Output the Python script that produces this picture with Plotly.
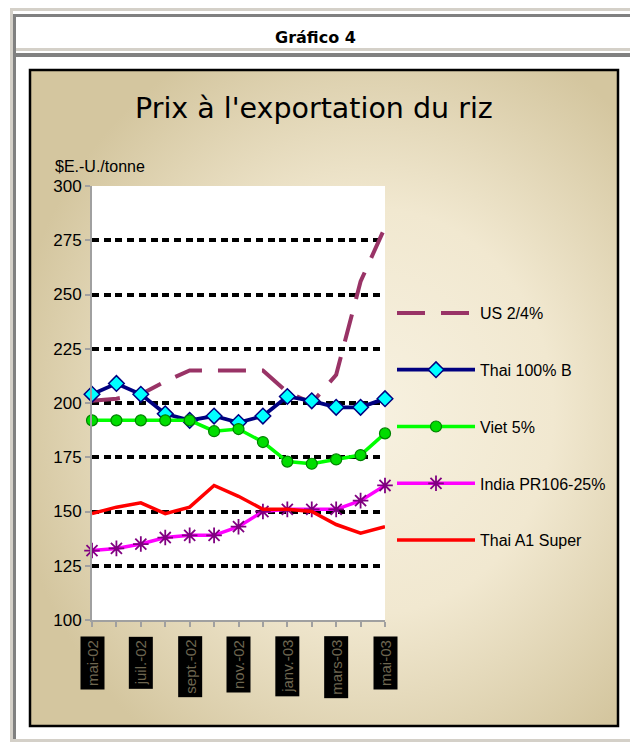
import base64
import plotly.graph_objects as go

# ---------------- data ----------------
months = ["mai-02", "juin-02", "juil.-02", "août-02", "sept.-02", "oct.-02", "nov.-02",
          "déc.-02", "janv.-03", "févr.-03", "mars-03", "avr.-03", "mai-03"]
tick_labels = ["mai-02", "juil.-02", "sept.-02", "nov.-02", "janv.-03", "mars-03", "mai-03"]
y_ticks = [100, 125, 150, 175, 200, 225, 250, 275, 300]

us_24 = [201, 202, 204, 210, 215, 215, 215, 215, 205, 200, 213, 256, 281]
thai_100b = [204, 209, 204, 195, 192, 194, 191, 194, 203, 201, 198, 198, 202]
viet_5 = [192, 192, 192, 192, 192, 187, 188, 182, 173, 172, 174, 176, 186]
india_pr106 = [132, 133, 135, 138, 139, 139, 143, 150, 151, 151, 151, 155, 162]
thai_a1 = [149, 152, 154, 149, 152, 162, 157, 151, 151, 150, 144, 140, 143]

W, H = 630, 742
L, R, T, B = 92, 245, 186, 122
PW, PH = W - L - R, H - T - B


def px(xp):
    return (xp - L) / PW


def py(yp):
    return (H - B - yp) / PH


fig = go.Figure()

fig.add_trace(go.Scatter(
    x=months, y=us_24, name="US 2/4%", mode="lines",
    line=dict(color="#993366", width=4, dash="28px,16px"), cliponaxis=False))
fig.add_trace(go.Scatter(
    x=months, y=thai_100b, name="Thai 100% B", mode="lines+markers",
    line=dict(color="#000080", width=3.8),
    marker=dict(symbol="diamond", size=12, color="#00ffff", line=dict(color="#000080", width=1.5)),
    cliponaxis=False))
fig.add_trace(go.Scatter(
    x=months, y=viet_5, name="Viet 5%", mode="lines+markers",
    line=dict(color="#00ff00", width=3.5),
    marker=dict(symbol="circle", size=11, color="#00dd00", line=dict(color="#008000", width=1.2)),
    cliponaxis=False))
fig.add_trace(go.Scatter(
    x=months, y=india_pr106, name="India PR106-25%", mode="lines+markers",
    line=dict(color="#ff00ff", width=3.5),
    marker=dict(symbol="asterisk-open", size=13, color="#800080", line=dict(color="#800080", width=1.8)),
    cliponaxis=False))
fig.add_trace(go.Scatter(
    x=months, y=thai_a1, name="Thai A1 Super", mode="lines",
    line=dict(color="#ff0000", width=3.5), cliponaxis=False))

for i, tr in enumerate(fig.data):
    tr.legendgroup = "g%d" % i

# background gradient for chart panel
svg = ("<svg xmlns='http://www.w3.org/2000/svg' width='588' height='656' viewBox='0 0 588 656' "
       "preserveAspectRatio='none'><defs><radialGradient id='g' cx='0.58' cy='0.52' r='0.62'>"
       "<stop offset='0' stop-color='#f7f1e0'/><stop offset='0.5' stop-color='#f1e8d0'/>"
       "<stop offset='1' stop-color='#d4c69f'/></radialGradient></defs>"
       "<rect width='588' height='656' fill='url(#g)'/></svg>")
src = "data:image/svg+xml;base64," + base64.b64encode(svg.encode()).decode()

images = [dict(source=src, xref="paper", yref="paper", x=px(30), y=py(70),
               sizex=(618 - 30) / PW, sizey=(726 - 70) / PH, sizing="stretch",
               xanchor="left", yanchor="top", layer="below")]


def rect(x0, y0, x1, y1, fill=None, line=None, lw=0):
    return dict(type="rect", xref="paper", yref="paper", x0=px(x0), x1=px(x1),
                y0=py(y1), y1=py(y0), fillcolor=fill or "rgba(0,0,0,0)",
                line=dict(color=line or "rgba(0,0,0,0)", width=lw), layer="below")


LG, DG = "#d4d0c8", "#808080"
shapes = [
    rect(10, 8, 630, 11, LG), rect(10, 8, 13, 742, LG),
    rect(13, 14, 630, 17, DG), rect(13, 14, 16, 742, DG),
    rect(16, 48, 630, 51, LG), rect(16, 53, 630, 57, DG),
    rect(13, 739, 630, 742, LG),
    rect(L, T, L + PW, H - B, "#ffffff"),
    rect(30, 70, 618, 726, None, "#000000", 2.5),
]

annotations = [
    dict(text="<b>Gráfico 4</b>", xref="paper", yref="paper", x=px(315), y=py(37),
         xanchor="center", yanchor="middle", showarrow=False,
         font=dict(family="DejaVu Sans", size=16, color="#000000")),
    dict(text="Prix à l'exportation du riz", xref="paper", yref="paper", x=px(314), y=py(108),
         xanchor="center", yanchor="middle", showarrow=False,
         font=dict(family="DejaVu Sans", size=28.5, color="#000000")),
    dict(text="$E.-U./tonne", xref="paper", yref="paper", x=px(53), y=py(167),
         xanchor="left", yanchor="middle", showarrow=False,
         font=dict(family="Liberation Sans, Arial", size=16, color="#000000")),
]
for lab in tick_labels:
    annotations.append(dict(text=lab, xref="x", yref="paper", x=lab, y=0, yshift=-16,
                            xanchor="center", yanchor="top", textangle=-90, showarrow=False,
                            bgcolor="#000000", borderpad=3,
                            font=dict(family="Liberation Sans, Arial", size=15, color="#6e6650")))

fig.update_layout(
    width=W, height=H, margin=dict(l=L, r=R, t=T, b=B, autoexpand=False),
    paper_bgcolor="#ffffff", plot_bgcolor="rgba(0,0,0,0)",
    images=images, shapes=shapes, annotations=annotations,
    showlegend=True,
    legend=dict(x=px(392), y=py(296), xanchor="left", yanchor="top",
                bgcolor="rgba(0,0,0,0)", tracegroupgap=33, itemwidth=78,
                font=dict(family="Liberation Sans, Arial", size=16, color="#000000"),
                traceorder="grouped"),
    xaxis=dict(type="category", range=[0, 12], showgrid=False, showticklabels=False,
               ticks="outside", ticklen=5, tickcolor="#a0a0a0", tickwidth=1.5,
               showline=True, linecolor="#a0a0a0", linewidth=2, zeroline=False,
               fixedrange=True),
    yaxis=dict(range=[100, 300], tickvals=y_ticks, ticktext=[str(v) for v in y_ticks],
               ticks="outside", ticklen=5, tickcolor="#a0a0a0", tickwidth=1.5,
               showline=True, linecolor="#a0a0a0", linewidth=2, zeroline=False,
               showgrid=True, gridcolor="#000000", gridwidth=3.5, griddash="7px,4.7px",
               tickfont=dict(family="Liberation Sans, Arial", size=17, color="#000000"),
               fixedrange=True),
)

fig.write_html(
    "out.html",
    config={"displayModeBar": False},
    post_script="document.body.style.margin='0';document.body.style.overflow='hidden';",
)
